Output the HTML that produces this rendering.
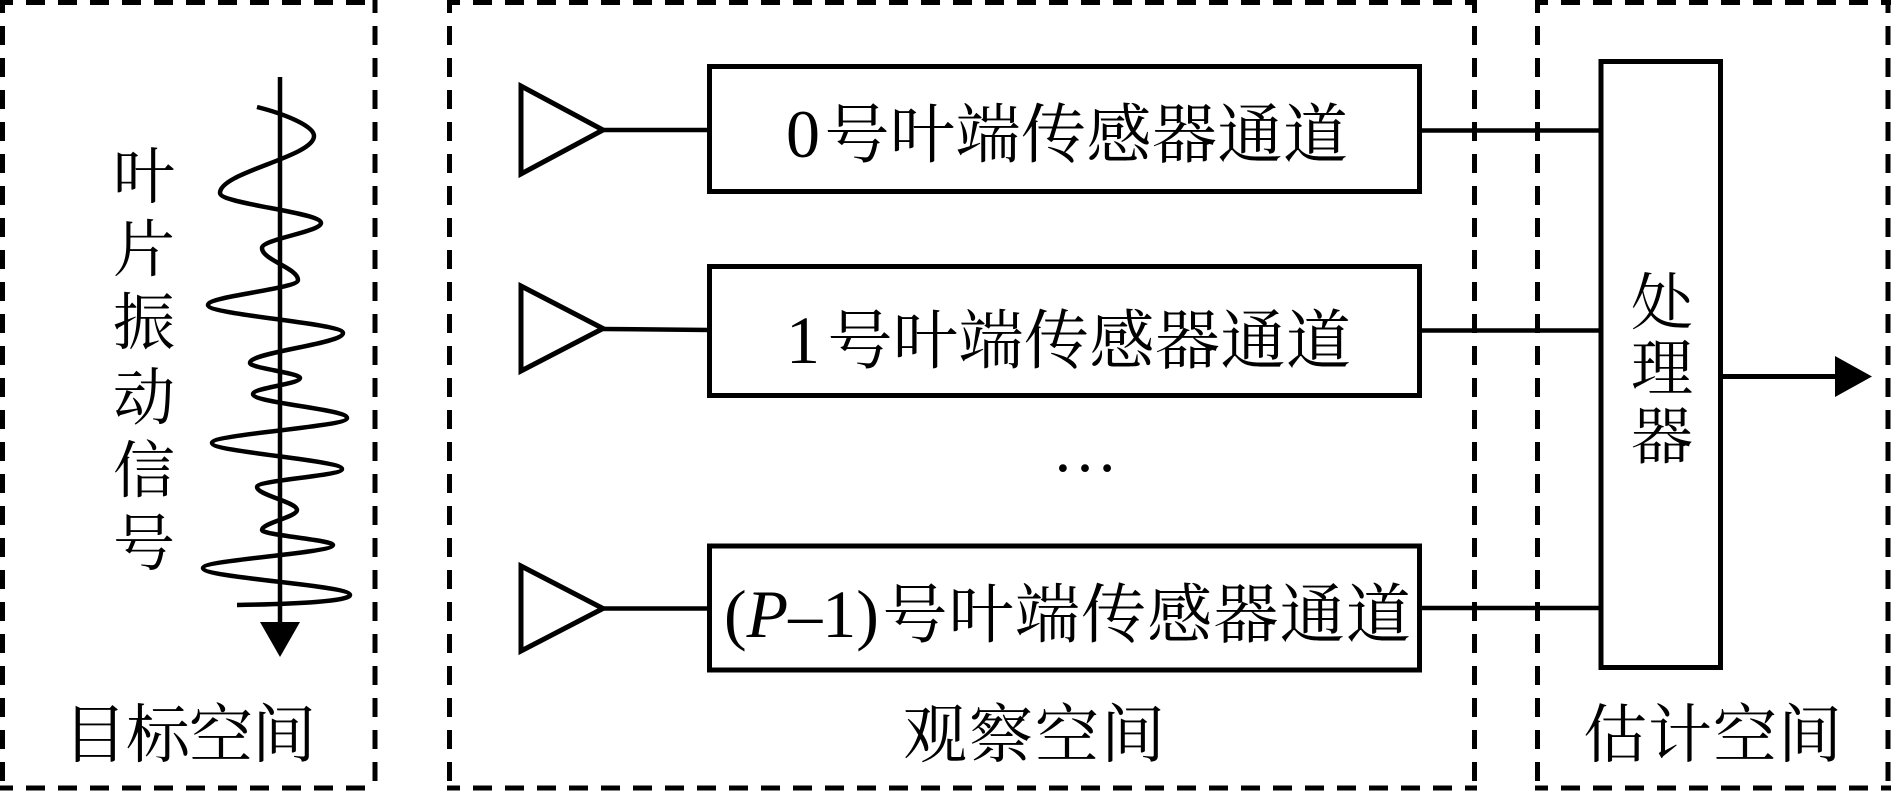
<!DOCTYPE html>
<html>
<head>
<meta charset="utf-8">
<style>
html,body{margin:0;padding:0;background:#fff;}
svg{display:block;}
.cjk{font-family:"Liberation Serif","Noto Serif CJK SC","Noto Sans CJK SC",serif;fill:#000;}
.lat{font-family:"Liberation Serif",serif;fill:#000;}
</style>
</head>
<body>
<svg width="1891" height="791" viewBox="0 0 1891 791" xmlns="http://www.w3.org/2000/svg">
<rect width="1891" height="791" fill="#fff"/>

<!-- Dashed region boxes -->
<g stroke="#000" stroke-width="5" fill="none" stroke-dasharray="19 13" stroke-dashoffset="6">
  <line x1="0" y1="2.5" x2="378" y2="2.5"/>
  <line x1="0" y1="788" x2="378" y2="788"/>
  <line x1="2.5" y1="0" x2="2.5" y2="791"/>
  <line x1="375" y1="0" x2="375" y2="791"/>
  <line x1="447" y1="2.5" x2="1477" y2="2.5"/>
  <line x1="447" y1="788" x2="1477" y2="788"/>
  <line x1="449.5" y1="0" x2="449.5" y2="791"/>
  <line x1="1474.5" y1="0" x2="1474.5" y2="791"/>
  <line x1="1535" y1="2.5" x2="1891" y2="2.5"/>
  <line x1="1535" y1="788" x2="1891" y2="788"/>
  <line x1="1537.5" y1="0" x2="1537.5" y2="791"/>
  <line x1="1888" y1="0" x2="1888" y2="791"/>
</g>

<!-- Left: vibration signal -->
<g stroke="#000" fill="none" stroke-linecap="butt">
  <line x1="280" y1="77" x2="280" y2="625" stroke-width="4.5"/>
  <path stroke-width="4.5" d="
    M257,107
    C285,114 314,126 314,136
    C314,157 220,172 220,193
    C220,204 321,212 321,223
    C321,232 262,239 262,248
    C262,260 298,268 298,280
    C298,289 208,296 208,305
    C208,315 343,323 343,333
    C343,344 250,352 250,363
    C250,368 300,373 300,378
    C300,384 253,388 253,394
    C253,403 347,409 347,418
    C347,427 212,434 212,443
    C212,452 342,460 342,469
    C342,476 257,480 257,487
    C257,495 297,502 297,510
    C297,517 262,523 262,530
    C262,535 333,540 333,545
    C333,553 203,560 203,568
    C203,578 350,585 350,595
    C350,601 300,604 237,605"/>
</g>
<polygon points="260,622 300,622 280,657" fill="#000"/>

<!-- Left vertical label -->
<g class="cjk" font-size="62" text-anchor="middle">
  <text x="144" y="198">叶</text>
  <text x="144" y="271">片</text>
  <text x="144" y="344">振</text>
  <text x="144" y="419">动</text>
  <text x="144" y="492">信</text>
  <text x="144" y="565">号</text>
</g>

<!-- Sensors (triangles) -->
<g stroke="#000" stroke-width="5" fill="none" stroke-linejoin="miter" stroke-miterlimit="10">
  <polygon points="521,86 521,174 603,130"/>
  <polygon points="521,286 521,371 603,328.5"/>
  <polygon points="521,566 521,651 603,608.5"/>
</g>
<g stroke="#000" stroke-width="4.5">
  <line x1="603" y1="130" x2="710" y2="130"/>
  <line x1="603" y1="329" x2="710" y2="330"/>
  <line x1="603" y1="608.5" x2="710" y2="608.5"/>
</g>

<!-- Channel boxes -->
<g stroke="#000" stroke-width="5" fill="none">
  <rect x="709.5" y="66.5" width="710" height="125"/>
  <rect x="709.5" y="266.5" width="710" height="129"/>
  <rect x="709.5" y="546" width="710" height="124"/>
</g>

<!-- Row 0 text -->
<text class="lat" x="786" y="157" font-size="68">0</text>
<g class="cjk" font-size="65" text-anchor="middle">
  <text x="857" y="157">号</text>
  <text x="922.5" y="157">叶</text>
  <text x="988" y="157">端</text>
  <text x="1053.5" y="157">传</text>
  <text x="1119" y="157">感</text>
  <text x="1184.5" y="157">器</text>
  <text x="1250" y="157">通</text>
  <text x="1315.5" y="157">道</text>
</g>

<!-- Row 1 text -->
<text class="lat" x="786" y="363" font-size="68">1</text>
<g class="cjk" font-size="65" text-anchor="middle">
  <text x="860" y="363">号</text>
  <text x="925.5" y="363">叶</text>
  <text x="991" y="363">端</text>
  <text x="1056.5" y="363">传</text>
  <text x="1122" y="363">感</text>
  <text x="1187.5" y="363">器</text>
  <text x="1253" y="363">通</text>
  <text x="1318.5" y="363">道</text>
</g>

<!-- Ellipsis -->
<text class="lat" x="1085" y="471" font-size="66" text-anchor="middle">…</text>

<!-- Row 2 text -->
<text class="lat" x="724" y="637" font-size="68">(<tspan font-style="italic">P</tspan>–1)</text>
<g class="cjk" font-size="65" text-anchor="middle">
  <text x="915" y="637">号</text>
  <text x="981.2" y="637">叶</text>
  <text x="1047.4" y="637">端</text>
  <text x="1113.6" y="637">传</text>
  <text x="1179.8" y="637">感</text>
  <text x="1246" y="637">器</text>
  <text x="1312.2" y="637">通</text>
  <text x="1378.4" y="637">道</text>
</g>

<!-- Connectors to processor -->
<g stroke="#000" stroke-width="4.5">
  <line x1="1419.5" y1="130.5" x2="1601" y2="130.5"/>
  <line x1="1419.5" y1="330.5" x2="1601" y2="330.5"/>
  <line x1="1419.5" y1="608" x2="1601" y2="608"/>
</g>

<!-- Processor -->
<rect x="1601" y="61.5" width="119.5" height="606" stroke="#000" stroke-width="5" fill="none"/>
<g class="cjk" font-size="62" text-anchor="middle">
  <text x="1662" y="324">处</text>
  <text x="1662" y="390">理</text>
  <text x="1662" y="458">器</text>
</g>

<!-- Output arrow -->
<line x1="1720" y1="376.5" x2="1838" y2="376.5" stroke="#000" stroke-width="5"/>
<polygon points="1835,356 1835,397 1872,376.5" fill="#000"/>

<!-- Bottom labels -->
<g class="cjk" font-size="64" text-anchor="middle">
  <text x="95" y="757">目</text>
  <text x="158" y="757">标</text>
  <text x="221" y="757">空</text>
  <text x="284" y="757">间</text>

  <text x="935" y="757">观</text>
  <text x="1001" y="757">察</text>
  <text x="1067" y="757">空</text>
  <text x="1133" y="757">间</text>

  <text x="1615" y="757">估</text>
  <text x="1680" y="757">计</text>
  <text x="1745" y="757">空</text>
  <text x="1810" y="757">间</text>
</g>
</svg>
</body>
</html>
